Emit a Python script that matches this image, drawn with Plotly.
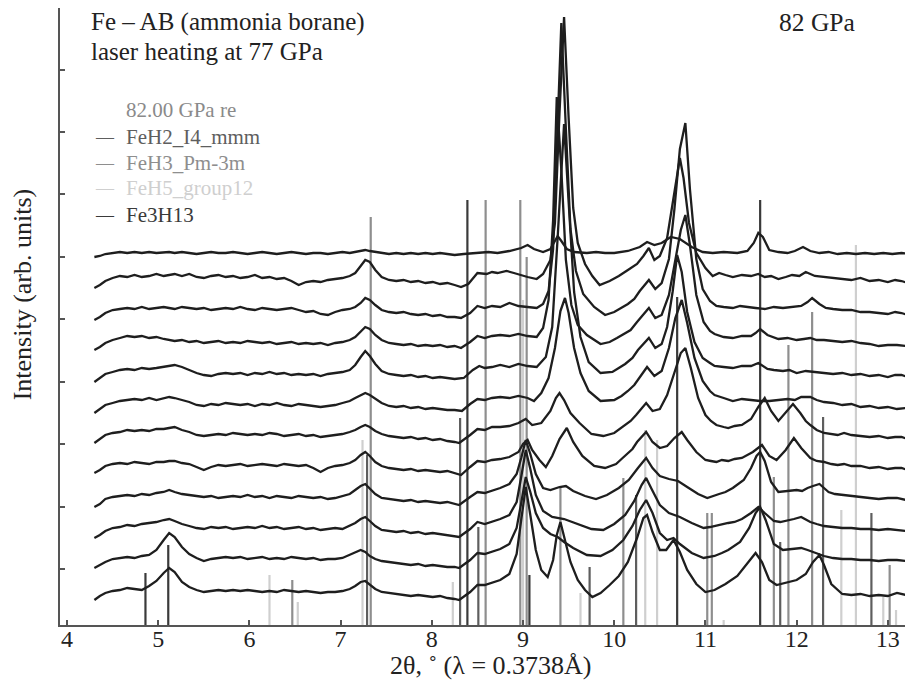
"""Stacked XRD patterns, Fe - ammonia borane, 82 GPa."""
import plotly.graph_objects as go

# vertical offsets of the 12 patterns, top to bottom (arb. units)
offsets = [372, 347, 316, 285, 253, 222, 192, 161, 129, 98, 67, 35]

# low-angle part (4.30-8.25 deg) is read on a shared 2theta grid
tt_low = [4.30, 4.36, 4.42, 4.50, 4.58, 4.66, 4.74, 4.82, 4.90, 4.98,
          5.06, 5.12, 5.18, 5.26, 5.34, 5.42, 5.50, 5.58, 5.66, 5.74,
          5.82, 5.90, 5.98, 6.06, 6.14, 6.22, 6.30, 6.38, 6.46, 6.54,
          6.62, 6.70, 6.78, 6.86, 6.94, 7.02, 7.10, 7.16, 7.22, 7.27,
          7.32, 7.38, 7.45, 7.53, 7.61, 7.69, 7.77, 7.85, 7.93, 8.01,
          8.09, 8.17, 8.25]

low_01 = [-4, -3, -1, 0, 1, 0, 1, 0, 1, 0, 1, 1, 0, 1, 0, -1, 0, 1, 0, 0,
          1, 0, -1, 0, 1, 0, -1, 0, 1, 0, -1, 0, 0, -1, 0, 1, 0, 1, 2, 3,
          2, 1, 0, -1, 0, -1, 0, -1, 0, -1, 0, -1, -2]
low_02 = [-10, -7, -3, 0, 2, 1, 3, 1, 2, 4, 2, 3, 4, 2, 4, 1, 0, 2, 3, 1,
          2, 0, 1, 3, 0, 1, -1, 0, -3, -7, -4, -3, -4, -2, -1, 0, 2, 5, 12, 18,
          16, 8, 1, -2, -3, -2, -4, -3, -5, -4, -6, -5, -7]
low_03 = [-11, -8, -4, -1, 0, 1, 0, 2, 0, 1, 2, 1, 0, 2, 1, 0, 1, -1, 0, 1,
          0, 2, 0, -1, 1, 0, -1, 0, 1, -1, -3, -2, -5, -6, -3, -1, 0, 2, 6, 11,
          9, 4, -1, -3, -4, -3, -5, -6, -5, -7, -6, -8, -8]
low_04 = [-10, -7, -3, 0, 2, 4, 3, 4, 2, 3, 1, 0, -1, 0, -2, -1, -3, -2, -1, -3,
          -2, -3, -1, -2, -3, -2, -4, -3, -2, -4, -3, -4, -3, -5, -3, -2, 0, 3, 8, 13,
          11, 5, 0, -3, -4, -5, -4, -6, -5, -6, -5, -7, -6]
low_05 = [-10, -6, -2, 0, 2, 3, 2, 4, 3, 4, 5, 6, 7, 5, 2, -1, -3, -4, -2, -1,
          -2, -1, -3, -1, -2, 0, -2, -1, -3, -2, -3, -2, -4, -2, -1, 0, 2, 7, 15, 21,
          16, 8, 1, -2, -3, -4, -3, -5, -4, -6, -5, -6, -7]
low_06 = [-10, -6, -2, 0, 2, 3, 4, 3, 5, 3, 5, 6, 5, 3, 1, -2, -3, -1, -2, 0,
          -1, -2, -1, -3, -1, -2, 0, -2, -3, -1, -2, -3, -4, -3, -2, 0, 2, 5, 8, 10,
          8, 4, 0, -3, -4, -3, -5, -4, -6, -5, -6, -7, -7]
low_07 = [-10, -6, -2, 0, 1, 3, 2, 3, 2, 4, 4, 5, 6, 3, 1, -2, -3, -2, -1, -2,
          0, -1, -2, -1, -2, 0, -1, -3, -2, -1, -3, -2, -4, -3, -2, -1, 1, 3, 6, 8,
          6, 2, -1, -3, -4, -5, -4, -6, -5, -7, -6, -8, -9]
low_08 = [-9, -6, -2, 0, 1, 0, 2, 1, 0, 2, 2, 3, 3, 1, 0, -3, -6, -3, -1, -2,
          -1, 0, -2, -1, 0, -1, -2, 0, -1, -2, -1, -4, -8, -4, -2, -1, 1, 4, 9, 12,
          8, 2, -2, -4, -5, -6, -5, -7, -6, -7, -8, -7, -9]
low_09 = [-11, -8, -3, -1, 0, 1, 0, 2, 1, 3, 4, 6, 4, 2, 1, 0, -1, 0, -2, -1,
          0, -1, 1, -1, 0, -2, 0, -1, -2, 0, -1, -2, -1, -3, -2, 0, 2, 6, 10, 12,
          7, 2, -2, -3, -4, -5, -4, -6, -5, -6, -7, -6, -8]
low_10 = [-11, -8, -4, -1, 0, 2, 1, 3, 4, 5, 7, 8, 6, 3, 1, -1, -2, 0, -1, 0,
          -2, -1, 0, -1, 1, -1, 0, -2, -1, 0, -2, -1, -3, -2, -1, -2, 1, 4, 8, 10,
          6, 1, -3, -4, -5, -4, -6, -5, -7, -6, -7, -8, -9]
low_11 = [-10, -7, -4, -1, 0, 1, 0, 2, 3, 8, 18, 25, 21, 11, 4, 0, -3, -1, 0, 1,
          0, 1, -1, 0, 1, -1, 0, -1, 1, 0, -1, 0, -2, -1, -1, 0, 3, 6, 8, 6,
          2, -1, -3, -4, -5, -6, -7, -6, -8, -7, -8, -9, -9]
low_12 = [-10, -6, -3, -1, 0, 2, 1, 0, 4, 9, 17, 22, 18, 8, 3, 0, -2, -1, 0, -1,
          0, -1, 0, -1, -2, -1, -2, 0, -1, -2, -1, -2, -3, -2, -2, -1, 1, 4, 8, 9,
          5, 1, -2, -3, -4, -5, -6, -5, -6, -7, -6, -8, -9]

# high-angle part (from 8.3 deg): (2theta, intensity above own baseline)
high_01 = [(8.35, -1), (8.50, 0), (8.62, 1), (8.72, 0), (8.85, 2), (8.98, 5), (9.05, 8), (9.12, 4), (9.22, 1),
           (9.30, 4), (9.34, 10), (9.38, 17), (9.42, 12), (9.48, 4), (9.56, 1), (9.70, 0), (9.80, 1), (9.90, 0),
           (10.00, 0), (10.15, 2), (10.28, 6), (10.36, 11), (10.44, 8), (10.52, 10), (10.62, 16), (10.72, 14),
           (10.85, 6), (10.97, 1), (11.08, 0), (11.20, 1), (11.35, 0), (11.46, 2), (11.53, 10), (11.58, 20),
           (11.63, 16), (11.70, 3), (11.80, 1), (11.90, 0), (11.98, 2), (12.07, 6), (12.15, 2), (12.25, 0),
           (12.35, 1), (12.45, -1), (12.55, 0), (12.65, -1), (12.75, 0), (12.85, -1), (12.95, 0), (13.05, -1),
           (13.15, 0), (13.28, -1)]
high_02 = [(8.32, -9), (8.40, -6), (8.46, 0), (8.50, 5), (8.60, 4), (8.66, 6), (8.72, 5), (8.82, 7), (8.90, 5),
           (8.97, 3), (9.05, 1), (9.15, -1), (9.22, 4), (9.30, 18), (9.35, 55), (9.40, 165), (9.45, 261),
           (9.50, 160), (9.55, 70), (9.60, 35), (9.68, 14), (9.76, 2), (9.84, -7), (9.95, -3), (10.05, 2),
           (10.15, 8), (10.25, 14), (10.32, 22), (10.38, 30), (10.44, 18), (10.50, 22), (10.58, 40), (10.64, 75),
           (10.68, 100), (10.72, 120), (10.76, 100), (10.82, 55), (10.90, 25), (11.00, 10), (11.08, 2),
           (11.15, 5), (11.22, 3), (11.30, 1), (11.40, 3), (11.50, 2), (11.58, 4), (11.65, 1), (11.72, 2),
           (11.80, -1), (11.88, 1), (11.95, 3), (12.03, 2), (12.10, 6), (12.20, 2), (12.30, 1), (12.40, 0),
           (12.50, -1), (12.60, -2), (12.70, 0), (12.80, -3), (12.90, -2), (13.00, -4), (13.08, -2), (13.15, -3),
           (13.22, -5), (13.28, -4)]
high_03 = [(8.32, -9), (8.42, -4), (8.50, 3), (8.58, 1), (8.66, 3), (8.75, 2), (8.85, 6), (8.95, 3), (9.05, 2),
           (9.15, 1), (9.22, 5), (9.28, 18), (9.33, 60), (9.38, 185), (9.42, 286), (9.47, 180), (9.52, 80),
           (9.58, 38), (9.66, 15), (9.78, 2), (9.90, -6), (10.00, -3), (10.08, 1), (10.15, 5), (10.22, 10),
           (10.28, 18), (10.38, 29), (10.45, 20), (10.52, 26), (10.60, 50), (10.66, 100), (10.72, 160),
           (10.78, 186), (10.83, 120), (10.90, 50), (10.97, 20), (11.05, 8), (11.12, 3), (11.20, 2), (11.30, 1),
           (11.38, 3), (11.45, 2), (11.55, 1), (11.65, 0), (11.75, 2), (11.85, 1), (11.95, 2), (12.05, 3),
           (12.12, 7), (12.17, 11), (12.25, 5), (12.32, 1), (12.40, 0), (12.50, -1), (12.60, -1), (12.70, -3),
           (12.80, -3), (12.90, -4), (13.00, -5), (13.08, -3), (13.15, -4), (13.22, -6), (13.28, -6)]
high_04 = [(8.32, -8), (8.42, -2), (8.50, 4), (8.58, 2), (8.66, 4), (8.75, 5), (8.85, 4), (8.95, 6), (9.05, 4),
           (9.15, 3), (9.22, 12), (9.28, 40), (9.33, 120), (9.37, 243), (9.42, 170), (9.47, 80), (9.53, 35),
           (9.60, 15), (9.70, 5), (9.85, -4), (9.95, -2), (10.03, 2), (10.10, 6), (10.18, 10), (10.25, 18),
           (10.38, 32), (10.45, 22), (10.52, 25), (10.60, 45), (10.67, 80), (10.73, 110), (10.78, 125),
           (10.83, 95), (10.90, 45), (10.98, 18), (11.05, 9), (11.10, 6), (11.20, 3), (11.30, 2), (11.40, 4),
           (11.50, 4), (11.55, 7), (11.60, 11), (11.68, 5), (11.75, 3), (11.80, 1), (11.90, 2), (12.00, 0),
           (12.08, 1), (12.15, 2), (12.22, 0), (12.30, 0), (12.40, -1), (12.50, -2), (12.60, -1), (12.70, -3),
           (12.80, -4), (12.90, -6), (13.00, -5), (13.10, -5), (13.20, -6), (13.28, -7)]
high_05 = [(8.35, -6), (8.45, 2), (8.52, 6), (8.58, 4), (8.66, 5), (8.75, 7), (8.85, 5), (8.95, 8), (9.05, 6),
           (9.15, 5), (9.25, 15), (9.32, 45), (9.38, 135), (9.45, 248), (9.50, 170), (9.56, 80), (9.63, 35),
           (9.72, 10), (9.85, -1), (9.98, 0), (10.05, 4), (10.12, 8), (10.20, 14), (10.26, 22), (10.38, 34),
           (10.45, 24), (10.52, 28), (10.58, 45), (10.64, 80), (10.69, 117), (10.74, 100), (10.80, 60),
           (10.88, 30), (10.97, 14), (11.05, 9), (11.10, 6), (11.20, 5), (11.30, 4), (11.40, 6), (11.50, 6),
           (11.58, 9), (11.68, 3), (11.75, 2), (11.85, 1), (11.92, 2), (12.00, -1), (12.10, 1), (12.20, 0),
           (12.30, -1), (12.40, -2), (12.50, -1), (12.60, -3), (12.70, -2), (12.80, -4), (12.90, -3),
           (13.00, -5), (13.08, -3), (13.15, -3), (13.22, -5), (13.28, -5)]
high_06 = [(8.33, -8), (8.42, -1), (8.50, 4), (8.58, 3), (8.66, 5), (8.75, 6), (8.85, 5), (8.95, 7), (9.05, 5),
           (9.12, 2), (9.20, 10), (9.28, 25), (9.35, 55), (9.41, 92), (9.46, 105), (9.50, 90), (9.56, 55),
           (9.63, 30), (9.72, 12), (9.85, 2), (10.00, 3), (10.08, 7), (10.15, 12), (10.22, 18), (10.28, 26),
           (10.36, 36), (10.44, 27), (10.52, 32), (10.60, 55), (10.67, 85), (10.74, 103), (10.80, 80),
           (10.88, 45), (10.97, 22), (11.05, 12), (11.10, 8), (11.20, 5), (11.30, 2), (11.40, 4), (11.50, 3),
           (11.60, 2), (11.70, 2), (11.80, 3), (11.90, 4), (11.98, 3), (12.05, 6), (12.15, 6), (12.22, 3),
           (12.30, 1), (12.40, 0), (12.50, -2), (12.60, -1), (12.70, -4), (12.80, -3), (12.90, -5), (13.00, -4),
           (13.10, -6), (13.20, -5), (13.28, -7)]
high_07 = [(8.30, -10), (8.42, -2), (8.50, 4), (8.58, 3), (8.66, 6), (8.75, 6), (8.85, 7), (8.95, 10), (9.03, 14),
           (9.10, 8), (9.20, 10), (9.30, 22), (9.36, 35), (9.40, 40), (9.45, 33), (9.52, 20), (9.62, 10),
           (9.75, -1), (9.88, -3), (10.00, 0), (10.06, 4), (10.12, 8), (10.18, 12), (10.24, 18), (10.35, 30),
           (10.42, 22), (10.50, 24), (10.58, 38), (10.66, 60), (10.73, 80), (10.78, 85), (10.84, 65), (10.92, 35),
           (11.00, 18), (11.06, 12), (11.12, 8), (11.20, 6), (11.25, 5), (11.32, 7), (11.40, 8), (11.50, 14),
           (11.58, 26), (11.65, 35), (11.72, 22), (11.80, 12), (11.88, 20), (11.96, 29), (12.04, 20), (12.10, 12),
           (12.15, 8), (12.22, 3), (12.30, 0), (12.38, -1), (12.45, -2), (12.52, 0), (12.60, -2), (12.70, -3),
           (12.80, -4), (12.90, -3), (13.00, -5), (13.08, -4), (13.15, -4), (13.22, -6), (13.28, -6)]
high_08 = [(8.32, -11), (8.42, -3), (8.50, 3), (8.58, 2), (8.66, 4), (8.75, 5), (8.85, 7), (8.95, 12), (9.00, 20),
           (9.05, 24), (9.10, 14), (9.18, 4), (9.25, -3), (9.32, 8), (9.40, 25), (9.48, 36), (9.55, 22),
           (9.65, 8), (9.78, -2), (9.90, -4), (10.02, 0), (10.08, 5), (10.14, 10), (10.20, 15), (10.25, 22),
           (10.35, 32), (10.42, 22), (10.50, 16), (10.58, 18), (10.66, 26), (10.74, 32), (10.80, 24), (10.90, 12),
           (11.00, 4), (11.06, 3), (11.12, 2), (11.18, 4), (11.25, 3), (11.32, 5), (11.40, 6), (11.52, 12),
           (11.62, 19), (11.70, 8), (11.78, 4), (11.88, 14), (11.97, 26), (12.05, 16), (12.15, 6), (12.22, 3),
           (12.30, 2), (12.38, 0), (12.45, -1), (12.52, 0), (12.60, -2), (12.70, -2), (12.80, -4), (12.90, -3),
           (13.00, -5), (13.08, -4), (13.15, -4), (13.22, -6), (13.28, -6)]
high_09 = [(8.30, -9), (8.42, -1), (8.50, 4), (8.58, 3), (8.66, 5), (8.75, 8), (8.85, 12), (8.93, 22), (8.98, 38),
           (9.03, 56), (9.08, 42), (9.14, 22), (9.22, 8), (9.30, 6), (9.40, 9), (9.47, 10), (9.55, 5), (9.68, 0),
           (9.80, -3), (9.92, 1), (10.05, 8), (10.16, 16), (10.26, 28), (10.35, 38), (10.42, 28), (10.50, 20),
           (10.60, 17), (10.70, 15), (10.80, 9), (10.92, 2), (11.02, -2), (11.10, 0), (11.15, 2), (11.22, 4),
           (11.30, 8), (11.42, 16), (11.50, 28), (11.56, 40), (11.60, 44), (11.65, 35), (11.72, 14), (11.80, 4),
           (11.90, 5), (12.00, 6), (12.06, 5), (12.12, 8), (12.18, 10), (12.25, 12), (12.30, 8), (12.35, 4),
           (12.42, 2), (12.50, 1), (12.60, 0), (12.70, -1), (12.80, -2), (12.90, -3), (13.00, -2), (13.10, -2),
           (13.20, -4), (13.28, -4)]
high_10 = [(8.30, -10), (8.42, -2), (8.50, 5), (8.58, 3), (8.66, 5), (8.75, 8), (8.85, 12), (8.93, 25), (8.98, 50),
           (9.03, 77), (9.08, 58), (9.14, 32), (9.22, 16), (9.32, 10), (9.45, 8), (9.60, 3), (9.75, -2),
           (9.88, -3), (10.00, 3), (10.12, 12), (10.22, 26), (10.30, 42), (10.35, 49), (10.41, 38), (10.50, 22),
           (10.60, 14), (10.72, 10), (10.85, 4), (10.98, -1), (11.05, 0), (11.10, 1), (11.18, 3), (11.25, 4),
           (11.32, 5), (11.40, 8), (11.50, 14), (11.58, 20), (11.65, 14), (11.75, 6), (11.82, 5), (11.88, 6),
           (11.97, 8), (12.05, 10), (12.15, 5), (12.22, 3), (12.30, 1), (12.40, 0), (12.50, -1), (12.60, -1),
           (12.70, -2), (12.80, -2), (12.90, -3), (13.00, -2), (13.10, -3), (13.20, -4), (13.28, -4)]
high_11 = [(8.30, -10), (8.42, -2), (8.50, 5), (8.58, 4), (8.66, 6), (8.75, 9), (8.85, 14), (8.93, 30), (8.98, 55),
           (9.03, 81), (9.08, 66), (9.14, 45), (9.22, 30), (9.30, 24), (9.38, 21), (9.45, 16), (9.55, 10),
           (9.70, 3), (9.85, 2), (9.98, 8), (10.10, 18), (10.20, 32), (10.28, 48), (10.35, 58), (10.42, 45),
           (10.50, 25), (10.58, 18), (10.65, 20), (10.72, 14), (10.85, 5), (10.98, 0), (11.05, 1), (11.10, 2),
           (11.18, 5), (11.25, 8), (11.38, 16), (11.48, 30), (11.55, 45), (11.60, 51), (11.66, 38), (11.75, 14),
           (11.85, 8), (11.95, 9), (12.05, 10), (12.12, 8), (12.18, 6), (12.30, 2), (12.40, 0), (12.50, -1),
           (12.60, -1), (12.70, -2), (12.80, -2), (12.90, -3), (13.00, -2), (13.10, -2), (13.20, -3), (13.28, -4)]
high_12 = [(8.30, -10), (8.42, -2), (8.50, 5), (8.58, 5), (8.66, 7), (8.75, 10), (8.85, 16), (8.93, 36), (8.98, 70),
           (9.03, 103), (9.08, 75), (9.14, 40), (9.20, 20), (9.27, 13), (9.33, 30), (9.37, 55), (9.41, 68),
           (9.46, 50), (9.52, 28), (9.60, 10), (9.68, 0), (9.76, -7), (9.85, -3), (9.95, 5), (10.05, 14),
           (10.15, 28), (10.25, 52), (10.32, 72), (10.36, 75), (10.42, 58), (10.50, 40), (10.57, 40), (10.65, 50),
           (10.72, 38), (10.80, 20), (10.90, 6), (11.00, -2), (11.10, 0), (11.22, 6), (11.35, 14), (11.45, 26),
           (11.55, 37), (11.62, 28), (11.70, 10), (11.78, 5), (11.90, 8), (12.00, 10), (12.10, 16), (12.18, 28),
           (12.25, 35), (12.30, 25), (12.38, 6), (12.50, -4), (12.60, -5), (12.70, -4), (12.80, -6), (12.90, -5),
           (13.00, -6), (13.10, -3), (13.20, -5), (13.28, -5)]

lows = [low_01, low_02, low_03, low_04, low_05, low_06, low_07, low_08, low_09, low_10, low_11, low_12]
highs = [high_01, high_02, high_03, high_04, high_05, high_06,
         high_07, high_08, high_09, high_10, high_11, high_12]

# reference reflections: positions (2theta) and stick heights
feh5_pos = [6.22, 6.53, 7.24, 8.23, 9.00, 9.63, 10.34, 10.47, 11.20, 12.49, 12.65, 12.95, 13.09]
feh5_int = [50, 23, 185, 43, 325, 32, 195, 185, 5, 115, 380, 28, 15]
feh3_pos = [6.47, 7.33, 8.59, 8.97, 9.04, 9.41, 10.10, 11.02, 11.07, 11.75, 11.91, 12.17, 13.02]
feh3_int = [45, 408, 425, 425, 368, 138, 147, 112, 112, 148, 280, 313, 60]
feh2_pos = [7.29, 8.31, 8.51, 9.73, 10.24, 11.82, 12.29, 12.82]
feh2_int = [170, 207, 98, 58, 130, 83, 208, 112]
fe3h13_pos = [4.86, 5.11, 8.39, 9.07, 10.69, 11.60]
fe3h13_int = [52, 80, 425, 50, 328, 425]

phases = [
    ('FeH5_group12', feh5_pos, feh5_int, '#cfcfcf'),
    ('FeH3_Pm-3m', feh3_pos, feh3_int, '#8e8e8e'),
    ('FeH2_I4_mmm', feh2_pos, feh2_int, '#5e5e5e'),
    ('Fe3H13', fe3h13_pos, fe3h13_int, '#3a3a3a'),
]

fig = go.Figure()

for name, pos, inten, color in phases:
    xs, ys = [], []
    for p, h in zip(pos, inten):
        xs += [p, p, None]
        ys += [0, h, None]
    fig.add_trace(go.Scatter(x=xs, y=ys, mode='lines', name=name,
                             line=dict(color=color, width=2.2), hoverinfo='skip'))

for off, low, high in zip(offsets, lows, highs):
    xs = tt_low + [p[0] for p in high]
    ys = [off + v for v in low] + [off + p[1] for p in high]
    fig.add_trace(go.Scatter(x=xs, y=ys, mode='lines', line=dict(color='#1e1e1e', width=2.3),
                             showlegend=False))

serif = 'Liberation Serif, Times New Roman, serif'

# the page adds an 8 px body margin, so the figure is 8 px smaller than the window
fig.update_layout(
    width=905, height=683,
    margin=dict(l=52, r=0, t=0, b=66),
    paper_bgcolor='white', plot_bgcolor='white',
    showlegend=False,
    font=dict(family=serif, color='#222222'),
    xaxis=dict(range=[3.923, 13.276], tickvals=list(range(4, 14)), ticks='inside', ticklen=5, tickwidth=1.5,
               tickcolor='#555555', showline=True, linecolor='#555555', linewidth=2, showgrid=False,
               zeroline=False, ticklabelstandoff=-9, tickfont=dict(size=24, family=serif, color='#222222')),
    yaxis=dict(range=[0, 617], tickvals=[56, 118, 181, 243, 306, 368, 431, 493, 555], ticks='inside', ticklen=5,
               tickwidth=1.5, tickcolor='#555555', showticklabels=False, showline=True, linecolor='#555555',
               linewidth=1.5, showgrid=False, zeroline=False),
)


def note(text, x, y, size, color='#222222', xanchor='left', angle=0):
    fig.add_annotation(text=text, x=x, y=y, xref='paper', yref='paper', xanchor=xanchor, yanchor='middle',
                       showarrow=False, textangle=angle, borderpad=0,
                       font=dict(family=serif, size=size, color=color))


note('Fe – AB (ammonia borane)', 0.035, 0.977, 25)
note('laser heating at 77 GPa', 0.035, 0.929, 25)
note('82 GPa', 0.842, 0.977, 25.5)

note('82.00 GPa re', 0.0762, 0.835, 21, '#8a8a8a')
legend_rows = [('FeH2_I4_mmm', '#5e5e5e', 0.791), ('FeH3_Pm-3m', '#8e8e8e', 0.749),
               ('FeH5_group12', '#cfcfcf', 0.708), ('Fe3H13', '#3a3a3a', 0.665)]
for label, color, yy in legend_rows:
    note('—', 0.0399, yy, 18, color)
    note(label, 0.0762, yy, 21, color)

note('2θ, ˚ (λ = 0.3738Å)', 0.505, -0.065, 26, xanchor='center')
note('Intensity (arb. units)', -0.0445, 0.536, 26, xanchor='center', angle=-90)

fig.write_html("out.html")
